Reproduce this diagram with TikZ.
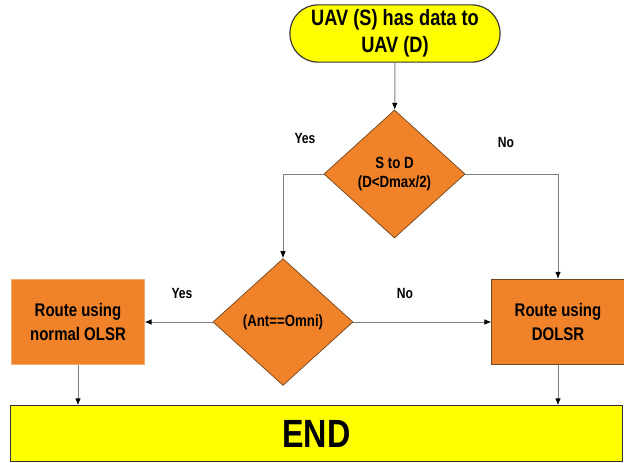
\documentclass[tikz,border=0pt]{standalone}
\usepackage{fontspec}
\usepackage{xcolor}
\usetikzlibrary{arrows.meta}
\usetikzlibrary{shapes.geometric}
\newfontfamily\chartfont{Liberation Sans}[FakeStretch=0.82]
\definecolor{flowyellow}{rgb}{1,1,0}
\definecolor{floworange}{rgb}{0.94,0.51,0.16}
\definecolor{flowedge}{rgb}{0.45,0.28,0.12}
\definecolor{flowline}{rgb}{0.5,0.5,0.5}
\tikzset{terminal/.style={draw=black!80, fill=flowyellow, line width=0.8pt, align=center, font=\chartfont\bfseries},
  decision/.style={diamond, draw=flowedge, fill=floworange, line width=0.5pt, inner sep=0pt, align=center, minimum width=3.5cm, minimum height=3.17cm, font=\chartfont\bfseries\fontsize{11.5}{13.5}\selectfont},
  process/.style={draw=flowedge, fill=floworange, line width=0.7pt, align=center, minimum width=3.3cm, minimum height=2.13cm, font=\chartfont\bfseries\fontsize{13}{16.5}\selectfont},
  answer/.style={font=\chartfont\bfseries\fontsize{10.5}{12}\selectfont},
  flow/.style={draw=flowline, line width=0.7pt, -{Latex[length=5pt,width=4pt,color=black]}}}

\begin{document}
\begin{tikzpicture}[x=0.025cm, y=-0.025cm]
\useasboundingbox (0, 0) rectangle (624, 462);
\node[terminal, rounded corners=0.7cm, minimum width=5.25cm, minimum height=1.43cm, font=\chartfont\bfseries\fontsize{15.8}{19}\selectfont] (start) at (395, 33.5) {UAV (S) has data to\\UAV (D)};
\node[decision, minimum width=3.53cm, minimum height=3.2cm] (range) at (394.5, 174) {S to D\\(D<Dmax/2)};
\node[decision] (antenna) at (283, 322) {(Ant==Omni)};
\node[process, draw={rgb,255:red,248;green,170;blue,110}] (olsr) at (78, 322) {Route using\\normal OLSR};
\node[process] (dolsr) at (558, 322) {Route using\\DOLSR};
\node[terminal, minimum width=15.3cm, minimum height=1.38cm, font=\chartfont\bfseries\fontsize{28}{32}\selectfont] (finish) at (316.5, 433.5) {END};
\node[answer] (yesrange) at (305, 138) {Yes};
\node[answer] (norange) at (506, 142) {No};
\node[answer] (yesant) at (182, 293) {Yes};
\node[answer] (noant) at (405, 293) {No};
\draw[flow] (start) -- (range);
\draw[flow] (range.west) -| (antenna.north);
\draw[flow] (range.east) -| (dolsr.north);
\draw[flow] (antenna.west) -- (olsr.east);
\draw[flow] (antenna.east) -- (dolsr.west);
\draw[flow] (olsr.south) -- (olsr.south |- finish.north);
\draw[flow] (dolsr.south) -- (dolsr.south |- finish.north);
\end{tikzpicture}
\end{document}
